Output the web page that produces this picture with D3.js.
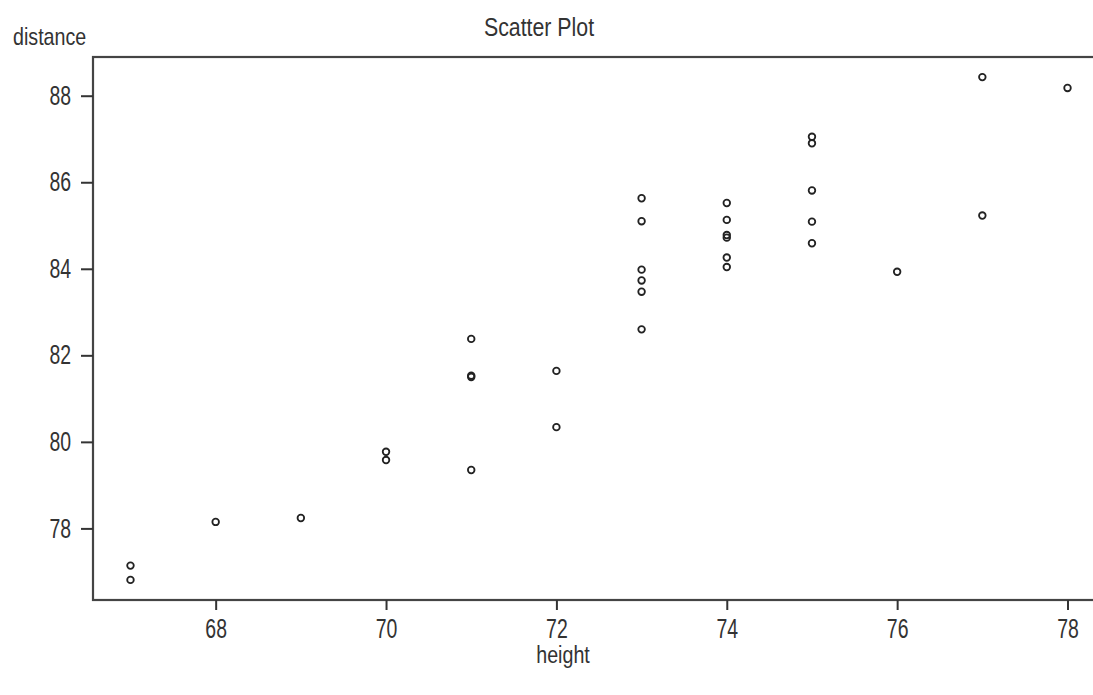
<!DOCTYPE html>
<html>
<head>
<meta charset="utf-8">
<script src="https://cdn.jsdelivr.net/npm/d3@7"></script>
<style>
  body { margin: 0; background: #fff; }
  svg { display: block; }
  text { font-family: "Liberation Sans", Arial, sans-serif; fill: #333; }
</style>
</head>
<body>
<svg id="chart"></svg>
<script>
// heights (x) and distances (y)
const heights = [67, 67, 68, 69, 70, 70, 71, 71, 71, 71, 72, 72,
  73, 73, 73, 73, 73, 73, 74, 74, 74, 74, 74, 74,
  75, 75, 75, 75, 75, 76, 77, 77, 78];
const distances = [77.14, 76.81, 78.15, 78.24, 79.77, 79.58, 82.38, 81.53, 81.50, 79.35, 81.64, 80.34,
  85.63, 85.10, 83.98, 83.73, 83.47, 82.60, 85.52, 85.13, 84.78, 84.72, 84.26, 84.04,
  87.05, 86.90, 85.81, 85.09, 84.59, 83.93, 88.43, 85.23, 88.18];
const xTicks = [68, 70, 72, 74, 76, 78];
const yTicks = [78, 80, 82, 84, 86, 88];

const outerWidth = 1093, outerHeight = 695;
const margin = { top: 57, left: 93, bottom: 95, right: -12 };
const width = outerWidth - margin.left - margin.right;
const height = outerHeight - margin.top - margin.bottom;

// the source font is a condensed one, squeeze plain Liberation Sans to match
const tickSqueeze = 0.72, labelSqueeze = 0.82;

// R-style 4% padding on the data range
function padded(vals) {
  const [lo, hi] = d3.extent(vals);
  const p = (hi - lo) * 0.04;
  return [lo - p, hi + p];
}

const x = d3.scaleLinear().domain(padded(heights)).range([0, width]);
const y = d3.scaleLinear().domain(padded(distances)).range([height, 0]);

const svg = d3.select('#chart')
  .attr('width', outerWidth)
  .attr('height', outerHeight);

const g = svg.append('g')
  .attr('transform', `translate(${margin.left},${margin.top})`);

g.append('rect')
  .attr('width', width)
  .attr('height', height)
  .attr('fill', 'none')
  .attr('stroke', '#444')
  .attr('stroke-width', 2.2);

const xAxis = g.append('g')
  .attr('transform', `translate(0,${height})`)
  .call(d3.axisBottom(x).tickValues(xTicks).tickSize(10).tickPadding(9));
const yAxis = g.append('g')
  .call(d3.axisLeft(y).tickValues(yTicks).tickSize(12).tickPadding(10));

[xAxis, yAxis].forEach(a => {
  a.select('.domain').remove();
  a.selectAll('line').attr('stroke', '#333').attr('stroke-width', 2);
  a.selectAll('text')
    .attr('font-size', 27)
    .attr('fill', '#333')
    .attr('x', function () { return +d3.select(this).attr('x') / tickSqueeze || 0; })
    .attr('transform', `scale(${tickSqueeze},1)`);
});

g.selectAll('circle')
  .data(heights.map((h, i) => [h, distances[i]]))
  .join('circle')
  .attr('cx', d => x(d[0]))
  .attr('cy', d => y(d[1]))
  .attr('r', 3.3)
  .attr('fill', 'none')
  .attr('stroke', '#222')
  .attr('stroke-width', 1.8);

function label(txt, px, py, size, anchor) {
  svg.append('text')
    .attr('transform', `translate(${px},${py}) scale(${labelSqueeze},1)`)
    .attr('text-anchor', anchor)
    .attr('font-size', size)
    .text(txt);
}

label('Scatter Plot', 539, 36, 26, 'middle');
label('distance', 13, 45, 24, 'start');
label('height', 563, 663, 24, 'middle');
</script>
</body>
</html>
